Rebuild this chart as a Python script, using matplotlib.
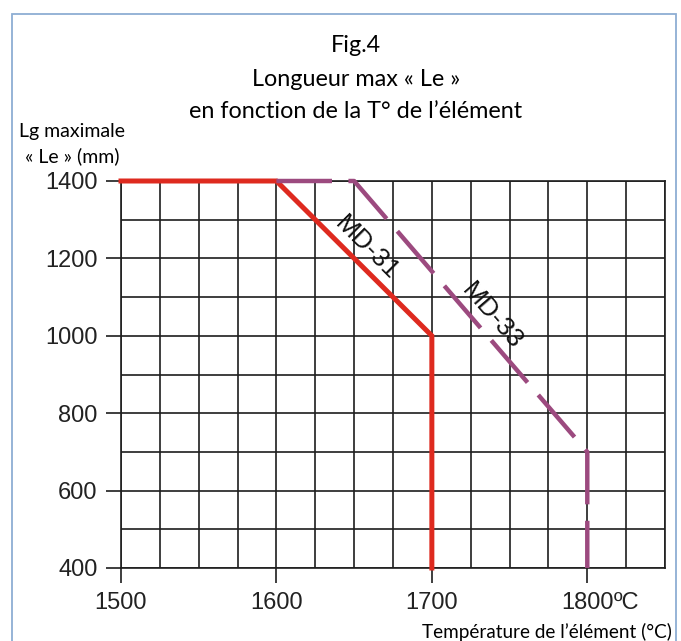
import matplotlib
matplotlib.use("Agg")
from matplotlib import pyplot as plt
from matplotlib.patches import Rectangle

# data
md31_temp = [1500, 1600, 1700, 1700]
md31_len = [1400, 1400, 1000, 400]
md33_temp = [1600, 1650, 1800, 1800]
md33_len = [1400, 1400, 700, 400]
x_ticks = [1500, 1600, 1700, 1800]
x_labels = ['1500', '1600', '1700', '1800']
y_ticks = [400, 600, 800, 1000, 1200, 1400]

red = '#de2a1f'
purple = '#9c4a7f'
title_font = 'Lato'
tick_font = 'Liberation Sans'

fig = plt.figure(figsize=(6.81, 6.41), dpi=100)
ax = fig.add_axes([121 / 681, 1 - 568 / 641, (665 - 121) / 681, (568 - 181) / 641])

ax.set_xlim(1500, 1850)
ax.set_ylim(400, 1400)

# grid every 25 degrees and 100 mm
ax.set_xticks(range(1500, 1851, 25), minor=True)
ax.set_yticks(range(400, 1401, 100), minor=True)
ax.grid(which='both', color='#1e1e1e', linewidth=1.2)
ax.set_axisbelow(True)
for s in ax.spines.values():
    s.set_color('#1e1e1e')
    s.set_linewidth(1.2)

ax.set_xticks(x_ticks)
ax.set_xticklabels(x_labels)
ax.set_yticks(y_ticks)
ax.tick_params(which='major', direction='out', length=11, width=1.2,
               color='#1e1e1e', labelsize=17, pad=6)
ax.tick_params(which='minor', length=0)
for lab in ax.get_xticklabels() + ax.get_yticklabels():
    lab.set_family(tick_font)
    lab.set_color('#222222')

ax.annotate('ºC', xy=(1800, 0), xycoords=('data', 'axes fraction'),
            xytext=(19, -17), textcoords='offset points', ha='left', va='top',
            fontsize=17, family=tick_font, color='#222222')

ax.plot(md31_temp, md31_len, color=red, linewidth=3.6, clip_on=False,
        solid_joinstyle='miter', zorder=3)
ax.plot(md33_temp, md33_len, color=purple, linewidth=3.2, clip_on=False,
        linestyle=(0, (12.5, 3.7)), zorder=3)

ax.text(1658, 1228, 'MD-31', rotation=-45, ha='center', va='center',
        fontsize=19, family=tick_font, color='#111111')
ax.text(1739, 1050, 'MD-33', rotation=-49, ha='center', va='center',
        fontsize=19, family=tick_font, color='#111111')

fig.text(356 / 681, 1 - 46 / 641, 'Fig.4', ha='center', va='center',
         fontsize=16.8, family=title_font)
fig.text(356 / 681, 1 - 80 / 641, 'Longueur max « Le »', ha='center', va='center',
         fontsize=16.8, family=title_font)
fig.text(356 / 681, 1 - 111 / 641, 'en fonction de la T° de l’élément',
         ha='center', va='center', fontsize=16.8, family=title_font)
fig.text(72 / 681, 1 - 131 / 641, 'Lg maximale', ha='center', va='center',
         fontsize=14, family=title_font)
fig.text(72 / 681, 1 - 156 / 641, '« Le » (mm)', ha='center', va='center',
         fontsize=14, family=title_font)
fig.text(672 / 681, 1 - 632 / 641, 'Température de l’élément (°C)',
         ha='right', va='center', fontsize=13.6, family=title_font)

# light blue frame around the figure
fig.patches.append(Rectangle((12 / 681, -0.02), (676 - 12) / 681, (641 - 14) / 641 + 0.02,
                             transform=fig.transFigure, fill=False,
                             edgecolor='#8eaed3', linewidth=1.3))

fig.savefig('out.png', dpi=100)
